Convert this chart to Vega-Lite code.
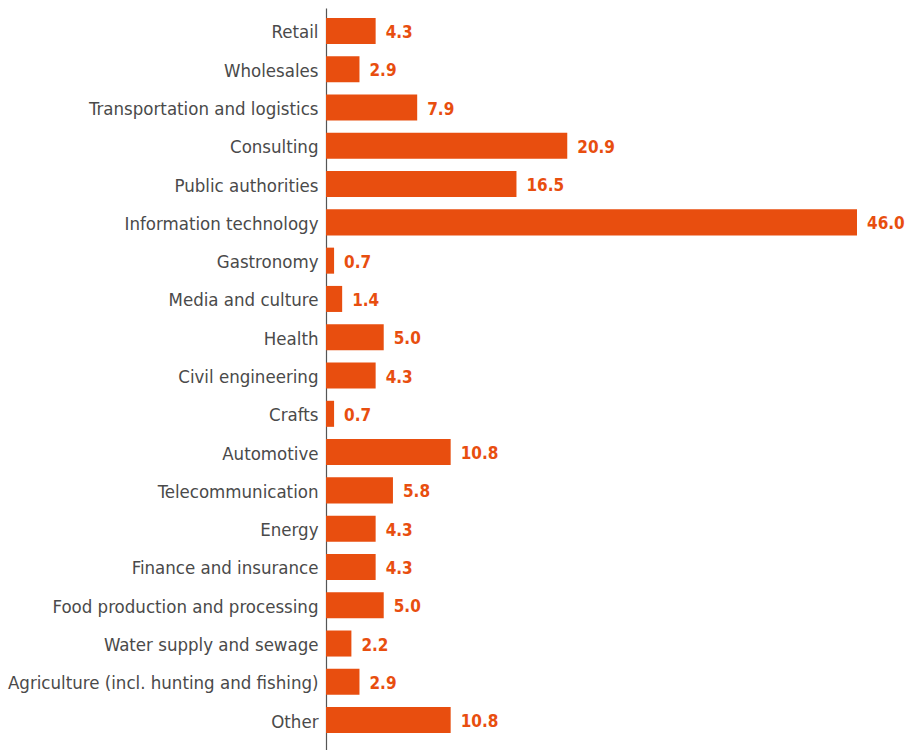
{
  "$schema": "https://vega.github.io/schema/vega-lite/v6.json",
  "width": 531,
  "height": 742,
  "autosize": {"type": "none"},
  "padding": {"left": 326, "top": 8, "right": 48, "bottom": 0},
  "background": "white",
  "config": {"view": {"stroke": null}},
  "data": {
    "values": [
      {"sector": "Retail", "value": 4.3},
      {"sector": "Wholesales", "value": 2.9},
      {"sector": "Transportation and logistics", "value": 7.9},
      {"sector": "Consulting", "value": 20.9},
      {"sector": "Public authorities", "value": 16.5},
      {"sector": "Information technology", "value": 46.0},
      {"sector": "Gastronomy", "value": 0.7},
      {"sector": "Media and culture", "value": 1.4},
      {"sector": "Health", "value": 5.0},
      {"sector": "Civil engineering", "value": 4.3},
      {"sector": "Crafts", "value": 0.7},
      {"sector": "Automotive", "value": 10.8},
      {"sector": "Telecommunication", "value": 5.8},
      {"sector": "Energy", "value": 4.3},
      {"sector": "Finance and insurance", "value": 4.3},
      {"sector": "Food production and processing", "value": 5.0},
      {"sector": "Water supply and sewage", "value": 2.2},
      {"sector": "Agriculture (incl. hunting and fishing)", "value": 2.9},
      {"sector": "Other", "value": 10.8}
    ]
  },
  "encoding": {
    "y": {
      "field": "sector",
      "type": "nominal",
      "sort": null,
      "scale": {"paddingInner": 0.32, "paddingOuter": 0.35, "align": 0.37},
      "axis": {
        "title": null,
        "ticks": false,
        "labelPadding": 8,
        "labelOffset": 1.5,
        "labelFont": "DejaVu Sans Condensed",
        "labelFontSize": 18.5,
        "labelColor": "#4a4a4a",
        "labelLimit": 400,
        "domainColor": "#555555",
        "domainWidth": 1.2
      }
    },
    "x": {
      "field": "value",
      "type": "quantitative",
      "scale": {"domain": [0, 46], "nice": false},
      "axis": null
    }
  },
  "layer": [
    {"mark": {"type": "bar", "color": "#E84E0F"}},
    {
      "mark": {
        "type": "text",
        "align": "left",
        "baseline": "middle",
        "dx": 10,
        "dy": 2,
        "font": "DejaVu Sans Condensed",
        "fontWeight": "bold",
        "fontSize": 17,
        "color": "#E84E0F"
      },
      "encoding": {
        "text": {"field": "value", "type": "quantitative", "format": ".1f"}
      }
    }
  ]
}
